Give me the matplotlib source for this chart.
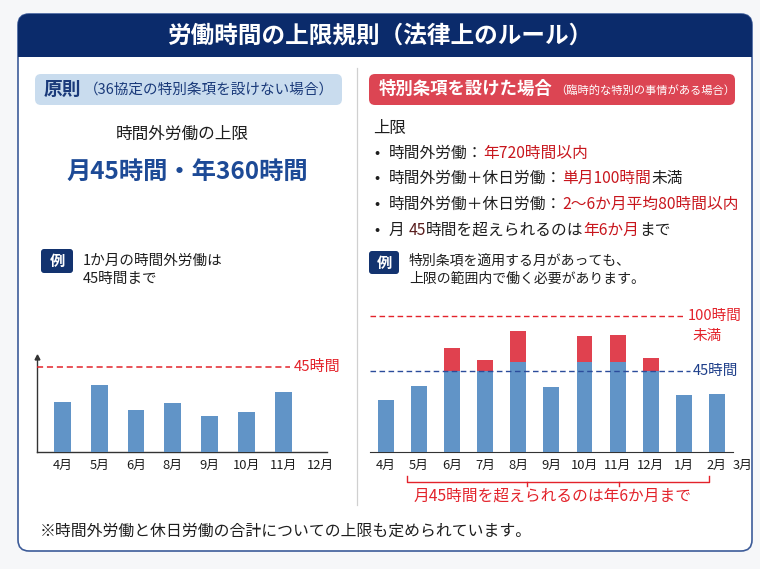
import numpy as np
import matplotlib
matplotlib.use("Agg")
import matplotlib.pyplot as plt
from matplotlib.patches import FancyBboxPatch, Rectangle

plt.rcParams['font.family'] = ['Noto Sans CJK JP', 'DejaVu Sans']

# ---------------- data ----------------
title = "労働時間の上限規則（法律上のルール）"

months_left = ["4月", "5月", "6月", "8月", "9月", "10月", "11月", "12月"]
hours_left = [26.5, 35.5, 22, 26, 19, 21, 32, np.nan]
limit_left = 45

months_right = ["4月", "5月", "6月", "7月", "8月", "9月", "10月", "11月", "12月", "1月", "2月", "3月"]
base_right = [29, 36.7, 45, 45, 50, 36, 50, 50, 45, 31.7, 32, np.nan]
extra_right = [0, 0, 12.4, 6, 17, 0, 14, 15, 7, 0, 0, np.nan]
limit_right_45 = 45
limit_right_100_pos = 75  # drawn position of the "100時間未満" guide (illustrative scale)

# ---------------- colours ----------------
NAVY = "#0b2b6b"
NAVY_T = "#1d4a96"
BLUE_BAR = "#6194c7"
RED_BAR = "#e0414f"
RED = "#e3232b"
DRED = "#c8161d"
TXT = "#1e1e1e"

fig = plt.figure(figsize=(7.6, 5.69), dpi=100)
fig.patch.set_facecolor("#f6f7f9")
bg = fig.add_axes([0, 0, 1, 1])
bg.set_xlim(0, 760)
bg.set_ylim(569, 0)
bg.axis("off")

# card
card = FancyBboxPatch((18, 14), 734, 537, boxstyle="round,pad=0,rounding_size=11",
                      fc="white", ec="#3d5c99", lw=1.2, zorder=1)
bg.add_patch(card)
hdr = FancyBboxPatch((18, 14), 734, 43, boxstyle="round,pad=0,rounding_size=11",
                     fc=NAVY, ec="none", zorder=2)
bg.add_patch(hdr)
bg.add_patch(Rectangle((18, 40), 734, 17, fc=NAVY, ec="none", zorder=2))
bg.text(380, 36, title, color="white", fontsize=17, fontweight="bold",
        ha="center", va="center", zorder=3)

# divider
bg.plot([357, 357], [68, 505], color="#d0d0d0", lw=0.9, zorder=2)

renderer = fig.canvas.get_renderer()


def seg_text(x, y, parts, size, weight="normal"):
    for s, c in parts:
        t = bg.text(x, y, s, color=c, fontsize=size, fontweight=weight,
                    ha="left", va="center", zorder=4)
        bb = t.get_window_extent(renderer=renderer)
        x += bb.width


# left pill
bg.add_patch(FancyBboxPatch((35, 74), 307, 31, boxstyle="round,pad=0,rounding_size=6",
                            fc="#c9dcee", ec="none", zorder=2))
t = bg.text(44, 89, "原則", color="#1a3a7a", fontsize=13.5, fontweight="bold",
            ha="left", va="center", zorder=4)
w = t.get_window_extent(renderer=renderer).width
bg.text(44 + w + 2, 90, "（36協定の特別条項を設けない場合）", color="#1a3a7a",
        fontsize=10.5, ha="left", va="center", zorder=4)

# right pill
bg.add_patch(FancyBboxPatch((369, 74), 366, 31, boxstyle="round,pad=0,rounding_size=6",
                            fc="#dc4553", ec="none", zorder=2))
t = bg.text(379, 89, "特別条項を設けた場合", color="white", fontsize=12.5,
            fontweight="bold", ha="left", va="center", zorder=4)
w = t.get_window_extent(renderer=renderer).width
bg.text(379 + w + 2, 90, "（臨時的な特別の事情がある場合）", color="white",
        fontsize=8.1, ha="left", va="center", zorder=4)

# left texts
bg.text(182, 134, "時間外労働の上限", color=TXT, fontsize=12, ha="center", va="center", zorder=4)
bg.text(187, 172, "月45時間・年360時間", color=NAVY_T, fontsize=17.5, fontweight="bold",
        ha="center", va="center", zorder=4)


def rei_box(x, y, w, h):
    bg.add_patch(FancyBboxPatch((x, y), w, h, boxstyle="round,pad=0,rounding_size=3",
                                fc="#13336f", ec="none", zorder=3))
    bg.text(x + w / 2, y + h / 2, "例", color="white", fontsize=11, fontweight="bold",
            ha="center", va="center", zorder=4)


rei_box(41, 249, 32, 24)
bg.text(83, 261, "1か月の時間外労働は", color=TXT, fontsize=10.5, ha="left", va="center", zorder=4)
bg.text(83, 279, "45時間まで", color=TXT, fontsize=10.5, ha="left", va="center", zorder=4)

# right texts
bg.text(373, 128, "上限", color=TXT, fontsize=11.8, ha="left", va="center", zorder=4)
bullet_lines = [
    [("時間外労働：", TXT), ("年720時間以内", DRED)],
    [("時間外労働＋休日労働：", TXT), ("単月100時間", DRED), ("未満", TXT)],
    [("時間外労働＋休日労働：", TXT), ("2〜6か月平均80時間以内", DRED)],
    [("月 ", TXT), ("45", "#5a1e1e"), ("時間を超えられるのは", TXT), ("年6か月", DRED), ("まで", TXT)],
]
for i, parts in enumerate(bullet_lines):
    yy = 153 + i * 25.8
    bg.text(377, yy, "•", color=TXT, fontsize=11, ha="center", va="center", zorder=4)
    seg_text(389, yy, parts, 11.3)

rei_box(369, 251, 30, 23)
bg.text(409, 261, "特別条項を適用する月があっても、", color=TXT, fontsize=10, ha="left", va="center", zorder=4)
bg.text(409, 279, "上限の範囲内で働く必要があります。", color=TXT, fontsize=10, ha="left", va="center", zorder=4)

# footnote
bg.text(40, 531, "※時間外労働と休日労働の合計についての上限も定められています。", color=TXT,
        fontsize=11.4, ha="left", va="center", zorder=4)

# ---------------- left chart ----------------
W, H = 760.0, 569.0
axL = fig.add_axes([37 / W, 1 - 452 / H, (327 - 37) / W, (452 - 357) / H])
axL.patch.set_alpha(0)
xl = np.arange(len(months_left))
axL.bar(xl, hours_left, width=0.46, color=BLUE_BAR, zorder=3)
axL.set_xlim(-0.69, 7.19)
axL.set_ylim(0, 50.3)
axL.set_xticks(xl)
axL.set_xticklabels(months_left, fontsize=9.3, color=TXT)
axL.set_yticks([])
axL.tick_params(axis="x", length=0, pad=5)
for s in ["top", "right"]:
    axL.spines[s].set_visible(False)
for s in ["left", "bottom"]:
    axL.spines[s].set_color("#333333")
    axL.spines[s].set_linewidth(1.0)
axL.plot(0, 1, marker="^", color="#333333", markersize=3.5, transform=axL.transAxes, clip_on=False)
axL.hlines(limit_left, -0.69, 6.18, colors=RED, linestyles=(0, (4, 2.5)), lw=1.1, zorder=4)
axL.text(6.29, limit_left, "45時間", color=RED, fontsize=10.8, ha="left", va="center", clip_on=False)

# ---------------- right chart ----------------
axR = fig.add_axes([370 / W, 1 - 452 / H, (752 - 370) / W, (452 - 300) / H])
axR.patch.set_alpha(0)
xr = np.arange(len(months_right)).astype(float)
axR.bar(xr, base_right, width=0.48, color=BLUE_BAR, zorder=3)
axR.bar(xr, extra_right, bottom=base_right, width=0.48, color=RED_BAR, zorder=3)
axR.set_xlim(-0.48, 11.06)
axR.set_ylim(0, 84.1)
tick_pos = xr.copy()
tick_pos[-1] -= 0.23  # last label squeezed against the card edge
axR.set_xticks(tick_pos)
axR.set_xticklabels(months_right, fontsize=9.3, color=TXT)
axR.set_yticks([])
axR.tick_params(axis="x", length=0, pad=5)
for s in ["top", "right", "left"]:
    axR.spines[s].set_visible(False)
axR.spines["bottom"].set_color("#333333")
axR.spines["bottom"].set_bounds(-0.48, 10.48)
axR.hlines(limit_right_100_pos, -0.48, 8.97, colors=RED, linestyles=(0, (4, 2.5)), lw=1.0, zorder=4)
axR.hlines(limit_right_45, -0.48, 9.18, colors="#2b4c9b", linestyles=(0, (4, 2.5)), lw=1.0, zorder=4)
axR.text(9.12, limit_right_100_pos, "100時間", color=RED, fontsize=10.5, ha="left", va="center")
axR.text(9.27, limit_right_100_pos - 10.8, "未満", color=RED, fontsize=10.5, ha="left", va="center")
axR.text(9.27, limit_right_45, "45時間", color="#1e3f8a", fontsize=10.5, ha="left", va="center")

# bracket under the right chart
bx0, bx1, by = 407, 709, 482
bg.plot([bx0, bx0, bx1, bx1], [476, by, by, 476], color=RED, lw=1.0, zorder=4)
for bx in (527, 619):
    bg.plot([bx, bx], [by, 486], color=RED, lw=1.0, zorder=4)
bg.text(553, 496, "月45時間を超えられるのは年6か月まで", color=RED, fontsize=11.3,
        ha="center", va="center", zorder=4)

fig.savefig("out.png", dpi=100, facecolor=fig.get_facecolor())
